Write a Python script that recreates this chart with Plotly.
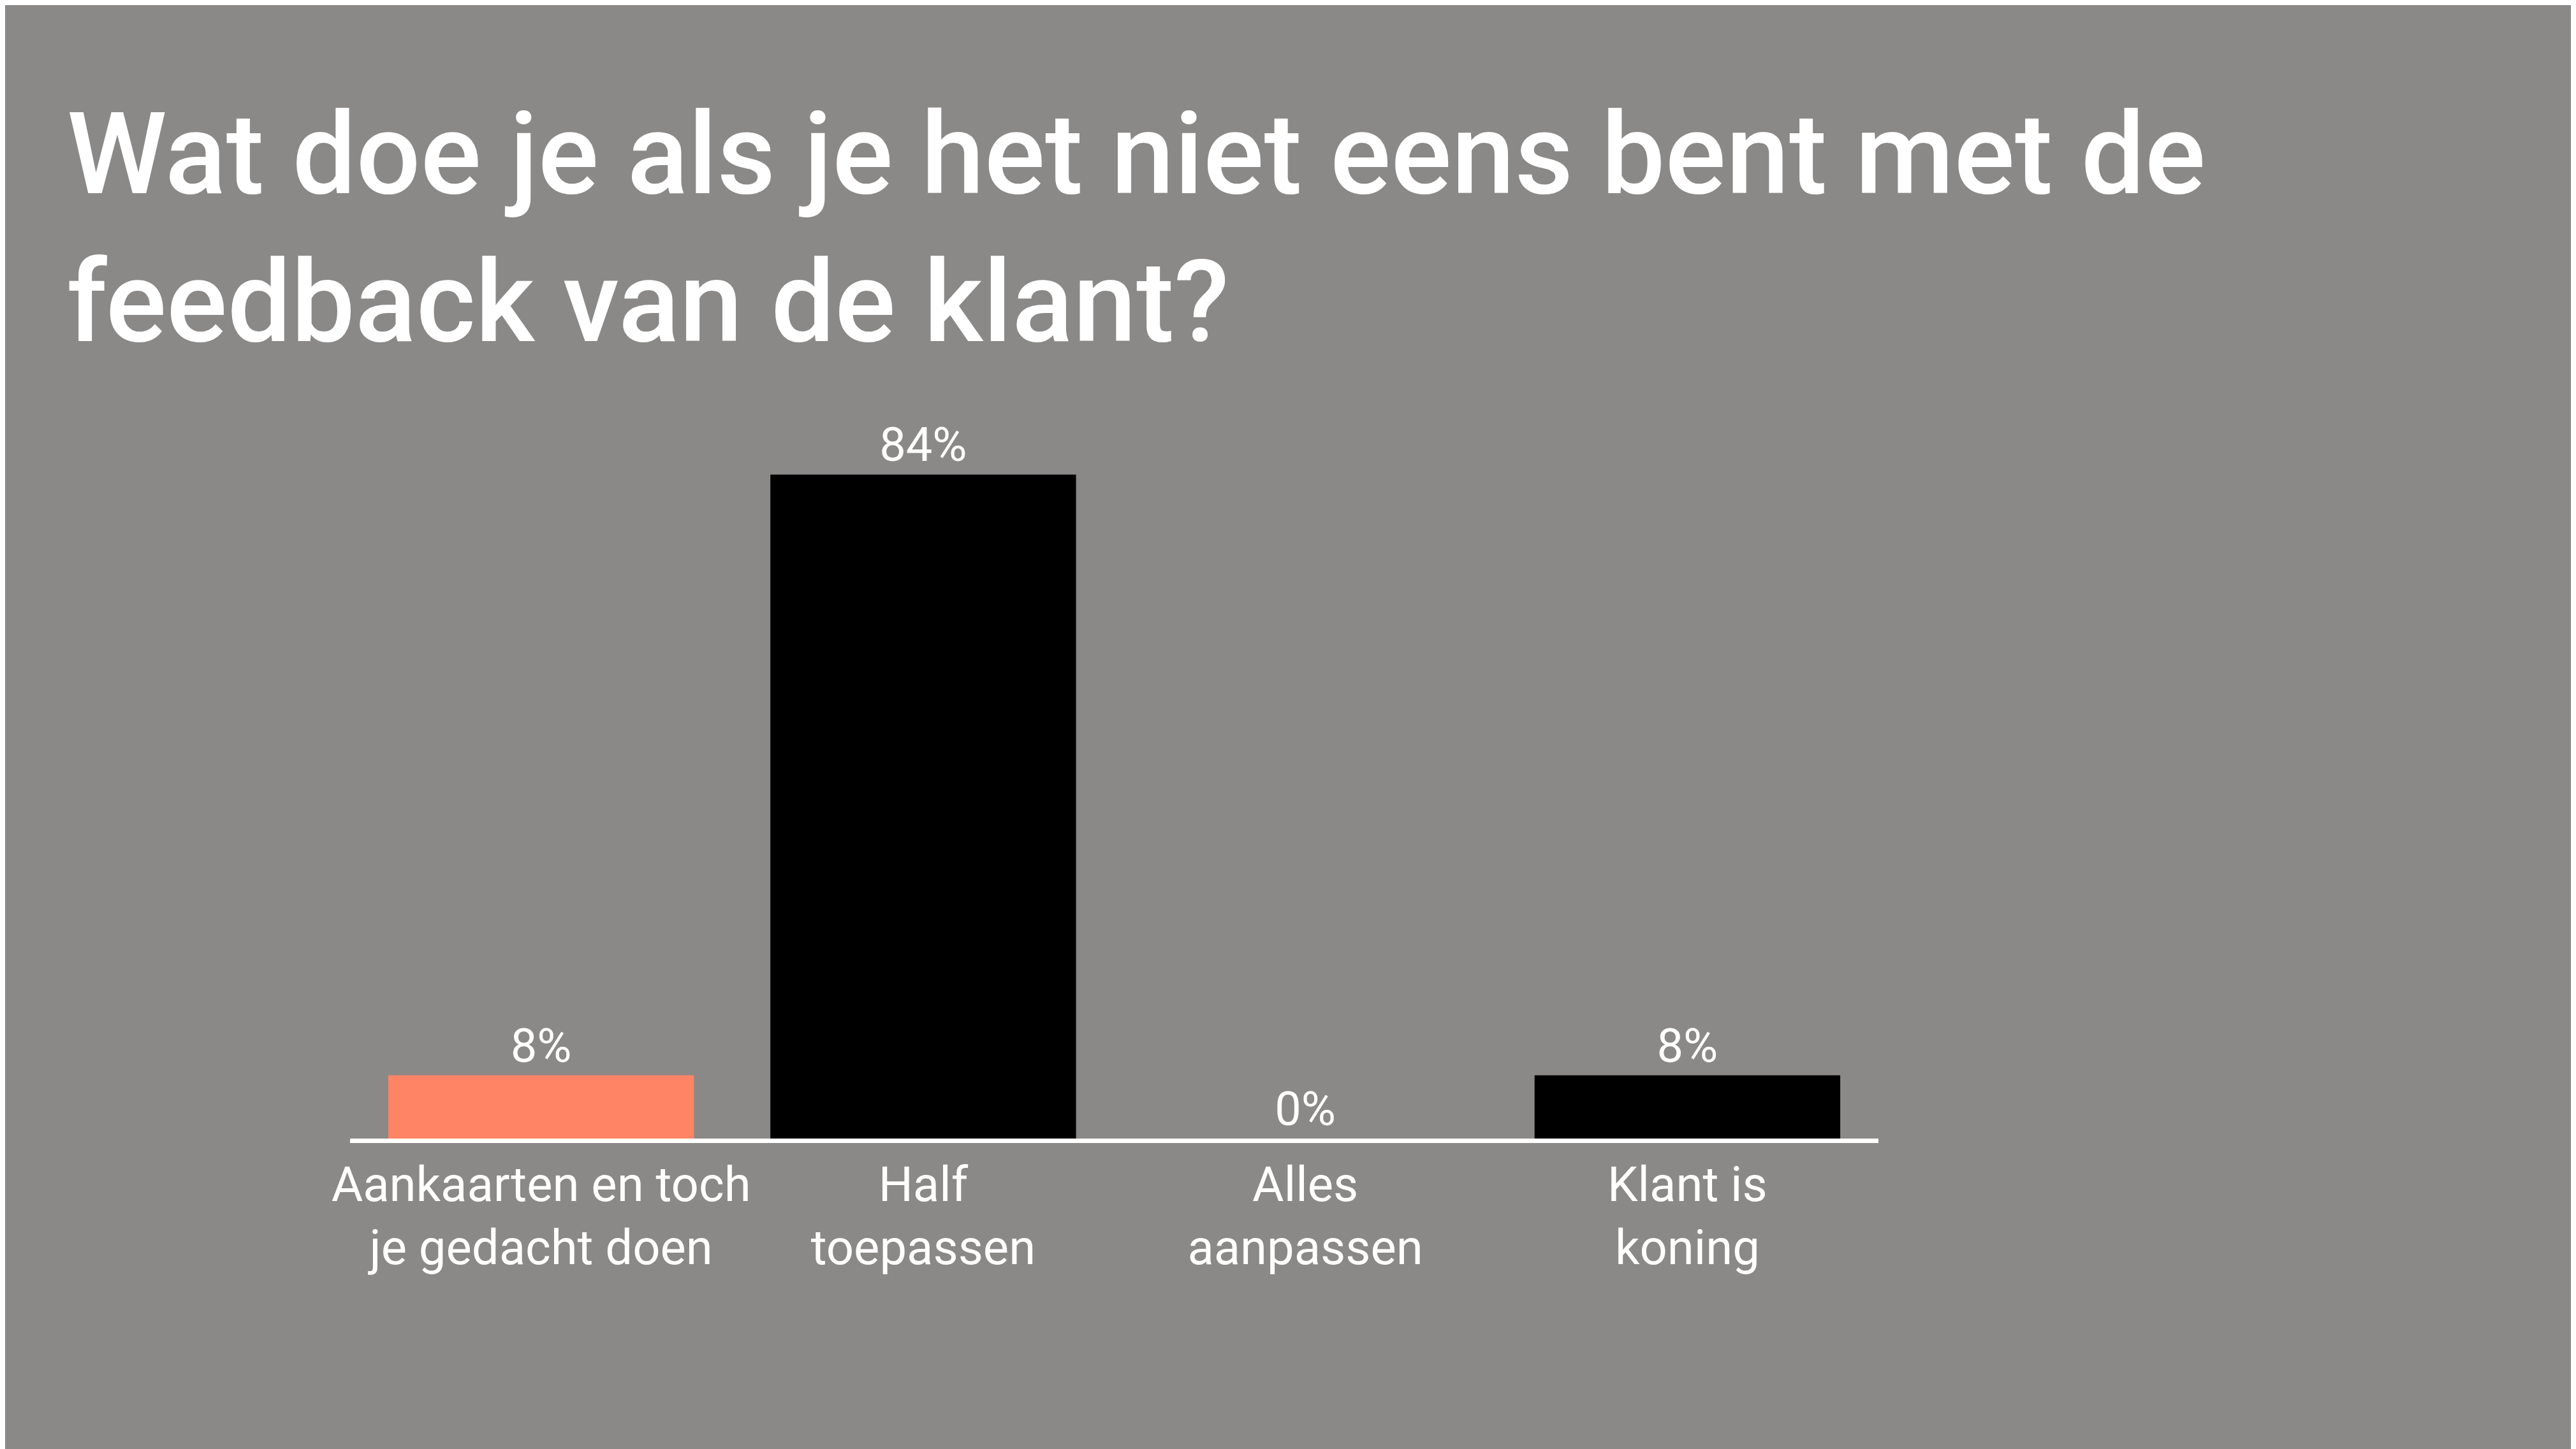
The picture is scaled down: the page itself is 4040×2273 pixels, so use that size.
import plotly.graph_objects as go

categories = ["Aankaarten en toch<br>je gedacht doen", "Half<br>toepassen", "Alles<br>aanpassen", "Klant is<br>koning"]
values = [8, 84, 0, 8]
labels = ["8%", "84%", "0%", "8%"]
colors = ["#FF8466", "#000000", "#000000", "#000000"]

BG = "#8A8987"
FONT = "Roboto"

fig = go.Figure(
    go.Bar(
        x=categories,
        y=values,
        text=labels,
        textposition="outside",
        cliponaxis=False,
        marker={"color": colors, "line": {"width": 0}},
        textfont={"family": FONT, "size": 74, "color": "white"},
    )
)

fig.update_layout(
    width=4040,
    height=2273,
    paper_bgcolor=BG,
    plot_bgcolor=BG,
    bargap=0.2,
    showlegend=False,
    margin={"l": 541, "r": 1102, "t": 600, "b": 495},
    title={
        "text": "Wat doe je als je het niet eens bent met de<br>feedback van de klant?",
        "x": 0.024,
        "xanchor": "left",
        "y": 0.87,
        "yanchor": "top",
        "font": {"family": FONT, "size": 178, "color": "white", "weight": 500},
    },
)
fig.update_xaxes(
    showline=True,
    linecolor="white",
    linewidth=7,
    ticks="",
    tickfont={"family": FONT, "size": 76, "color": "white"},
)
fig.update_yaxes(visible=False, range=[0, 95])

fig.write_html("out.html")
